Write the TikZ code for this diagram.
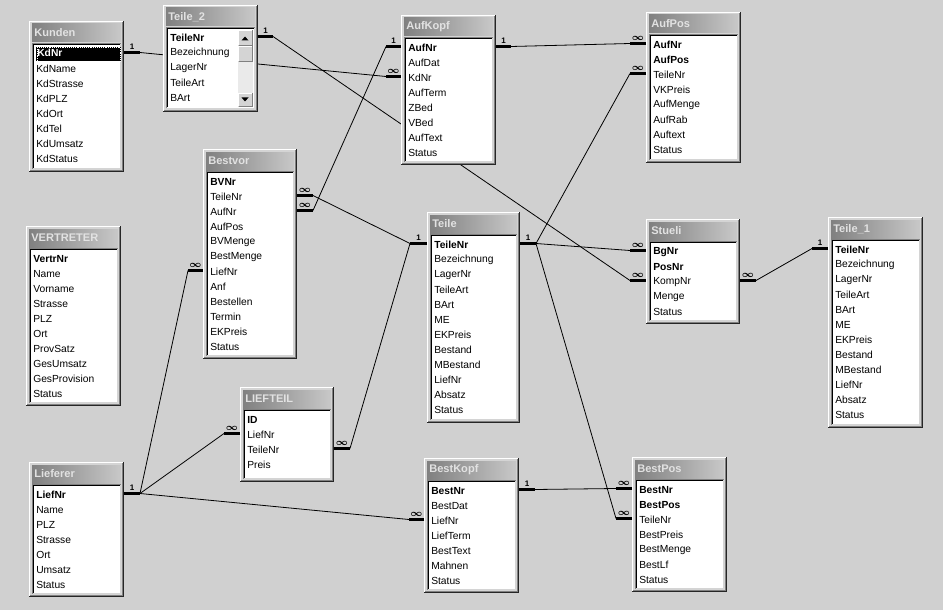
\documentclass[tikz,border=0pt]{standalone}
\usepackage{fontspec}
\setmainfont{Liberation Sans}
\usetikzlibrary{calc}

\definecolor{desk}{RGB}{208,208,208}
\definecolor{face}{RGB}{212,212,212}
\definecolor{rimdark}{RGB}{128,128,128}
\definecolor{titledark}{RGB}{128,128,128}
\definecolor{titlelight}{RGB}{200,200,200}
\definecolor{titletext}{RGB}{226,226,226}
\definecolor{track}{RGB}{234,234,234}

\pgfdeclarelayer{back}
\pgfdeclarelayer{links}
\pgfsetlayers{back,links,main}

\tikzset{
  field/.style={anchor=west,inner sep=0pt,font=\fontsize{7.7}{9}\selectfont},
  tabtitle/.style={anchor=west,inner sep=0pt,text=titletext,font=\fontsize{8.3}{9}\selectfont\bfseries},
  bar/.style={line width=2.2pt},
  rel/.style={line width=0.6pt},
  relmark/.style={inner sep=0pt,above=1.5pt,font=\fontsize{6}{6}\selectfont\bfseries},
}

\newcommand{\nmany}{{\fontsize{7.5}{7.5}\selectfont\boldmath$\infty$}}
\newcommand{\selrow}[1]{\setlength{\fboxsep}{0.8pt}\colorbox{black}{\makebox[62pt][l]{\color{white}\bfseries\rule[-2.8pt]{0pt}{9.6pt}#1}}}

% #1 name, #2 left, #3 top, #4 right, #5 bottom, #6 title, #7 fields
\newcommand{\dbtable}[7]{%
  \fill[face] (#2,#3) rectangle (#4,#5);
  \draw[white] (#2+0.5,#5-1) -- (#2+0.5,#3+0.5) -- (#4-1,#3+0.5);
  \draw[rimdark] (#2+1,#5-1.5) -- (#4-1.5,#5-1.5) -- (#4-1.5,#3+1);
  \draw[black!85] (#2,#5-0.5) -- (#4-0.5,#5-0.5) -- (#4-0.5,#3);
  \shade[left color=titledark,right color=titlelight] (#2+3,#3+3) rectangle (#4-3,#3+21);
  \node[tabtitle] (#1-t) at (#2+5,#3+12) {#6};
  \fill[white] (#2+4,#3+23) rectangle (#4-4,#5-4);
  \draw[rimdark] (#2+3.5,#5-3.5) -- (#2+3.5,#3+22.5) -- (#4-3.5,#3+22.5);
  \draw[black] (#2+4.5,#5-4.5) -- (#2+4.5,#3+23.5) -- (#4-4.5,#3+23.5);
  \coordinate (#1-l) at (#2,#3);
  \coordinate (#1-r) at (#4,#3);
  \foreach \f [count=\i] in {#7}
    \node[field] (#1-\i) at (#2+7,#3+18+15*\i) {\f};
}

% #1 edge point, #2 length, #3 mark, #4 name of outer end
\newcommand{\relend}[4]{%
  \draw[bar] ($(#1)+(0,-1.5)$) -- ++(#2,0) node[relmark,midway]{#3} coordinate (#4);
}

\begin{document}
\begin{tikzpicture}[x=0.75pt,y=-0.75pt]
\begin{pgfonlayer}{back}
  \fill[desk] (0,0) rectangle (943,610);
\end{pgfonlayer}

\dbtable{kunden}{29}{21}{124}{172}{Kunden}{\selrow{KdNr},KdName,KdStrasse,KdPLZ,KdOrt,KdTel,KdUmsatz,KdStatus}
\draw[white,densely dotted] ([shift={(0.6pt,-0.6pt)}]kunden-1.north west) rectangle ([shift={(-0.6pt,0.6pt)}]kunden-1.south east);
\dbtable{teile2}{163}{5}{258}{112}{Teile\_2}{\textbf{TeileNr},Bezeichnung,LagerNr,TeileArt,BArt}
% scroll bar
\fill[track] (238,46) rectangle (253,93);
\foreach \ya/\yb in {30/46,46/62,93/107} {
  \fill[face] (238,\ya) rectangle (253,\yb);
  \draw[white] (238.5,\yb-1) -- (238.5,\ya+0.5) -- (252,\ya+0.5);
  \draw[rimdark] (238.5,\yb-0.5) -- (252.5,\yb-0.5) -- (252.5,\ya+0.5);
}
\fill (241.5,40.5) -- (248.5,40.5) -- (245,36.5) -- cycle;
\fill (241.5,97.5) -- (248.5,97.5) -- (245,101.5) -- cycle;

\dbtable{aufkopf}{401}{15}{496}{165}{AufKopf}{\textbf{AufNr},AufDat,KdNr,AufTerm,ZBed,VBed,AufText,Status}
\dbtable{aufpos}{646}{12}{741}{163}{AufPos}{\textbf{AufNr},\textbf{AufPos},TeileNr,VKPreis,AufMenge,AufRab,Auftext,Status}
\dbtable{bestvor}{203}{149}{297}{359}{Bestvor}{\textbf{BVNr},TeileNr,AufNr,AufPos,BVMenge,BestMenge,LiefNr,Anf,Bestellen,Termin,EKPreis,Status}
\dbtable{teile}{427}{212}{520}{423}{Teile}{\textbf{TeileNr},Bezeichnung,LagerNr,TeileArt,BArt,ME,EKPreis,Bestand,MBestand,LiefNr,Absatz,Status}
\dbtable{stueli}{646}{219}{740}{324}{Stueli}{\textbf{BgNr},\textbf{PosNr},KompNr,Menge,Status}
\dbtable{teile1}{828}{217}{923}{428}{Teile\_1}{\textbf{TeileNr},Bezeichnung,LagerNr,TeileArt,BArt,ME,EKPreis,Bestand,MBestand,LiefNr,Absatz,Status}
\dbtable{vertreter}{26}{226}{121}{406}{VERTRETER}{\textbf{VertrNr},Name,Vorname,Strasse,PLZ,Ort,ProvSatz,GesUmsatz,GesProvision,Status}
\dbtable{lieferer}{29}{462}{124}{597}{Lieferer}{\textbf{LiefNr},Name,PLZ,Strasse,Ort,Umsatz,Status}
\dbtable{liefteil}{240}{387}{334}{482}{LIEFTEIL}{\textbf{ID},LiefNr,TeileNr,Preis}
\dbtable{bestkopf}{424}{458}{519}{593}{BestKopf}{\textbf{BestNr},BestDat,LiefNr,LiefTerm,BestText,Mahnen,Status}
\dbtable{bestpos}{632}{457}{727}{592}{BestPos}{\textbf{BestNr},\textbf{BestPos},TeileNr,BestPreis,BestMenge,BestLf,Status}

% ends of the relations
\relend{kunden-r |- kunden-1}{16}{1}{kd}
\relend{aufkopf-l |- aufkopf-3}{-15}{\nmany}{akkd}
\relend{teile2-r |- teile2-1}{15}{1}{t2}
\relend{stueli-l |- stueli-3}{-16}{\nmany}{stkomp}
\relend{aufkopf-l |- aufkopf-1}{-15}{1}{akauf}
\relend{bestvor-r |- bestvor-3}{16}{\nmany}{bvauf}
\relend{bestvor-r |- bestvor-2}{16}{\nmany}{bvteil}
\relend{aufkopf-r |- aufkopf-1}{15}{1}{akr}
\relend{aufpos-l |- aufpos-1}{-16}{\nmany}{apauf}
\relend{aufpos-l |- aufpos-3}{-16}{\nmany}{apteil}
\relend{teile-l |- teile-1}{-17}{1}{tl}
\relend{teile-r |- teile-1}{16}{1}{tr}
\relend{stueli-l |- stueli-1}{-16}{\nmany}{stbg}
\relend{stueli-r |- stueli-3}{16}{\nmany}{stkr}
\relend{teile1-l |- teile1-1}{-16}{1}{t1}
\relend{bestvor-l |- bestvor-7}{-15}{\nmany}{bvlief}
\relend{liefteil-l |- liefteil-2}{-16}{\nmany}{ltlief}
\relend{liefteil-r |- liefteil-3}{16}{\nmany}{ltteil}
\relend{lieferer-r |- lieferer-1}{16}{1}{lf}
\relend{bestkopf-l |- bestkopf-3}{-15}{\nmany}{bklief}
\relend{bestkopf-r |- bestkopf-1}{16}{1}{bkr}
\relend{bestpos-l |- bestpos-1}{-16}{\nmany}{bpbest}
\relend{bestpos-l |- bestpos-3}{-16}{\nmany}{bpteil}

\begin{pgfonlayer}{links}
  \draw[rel] (kd) -- (akkd);
  \draw[rel] (t2) -- (stkomp);
  \draw[rel] (bvauf) -- (akauf);
  \draw[rel] (bvteil) -- (tl);
  \draw[rel] (akr) -- (apauf);
  \draw[rel] (tr) -- (apteil);
  \draw[rel] (tr) -- (stbg);
  \draw[rel] (tr) -- (bpteil);
  \draw[rel] (stkr) -- (t1);
  \draw[rel] (lf) -- (bvlief);
  \draw[rel] (lf) -- (ltlief);
  \draw[rel] (lf) -- (bklief);
  \draw[rel] (ltteil) -- (tl);
  \draw[rel] (bkr) -- (bpbest);
\end{pgfonlayer}
\end{tikzpicture}
\end{document}
